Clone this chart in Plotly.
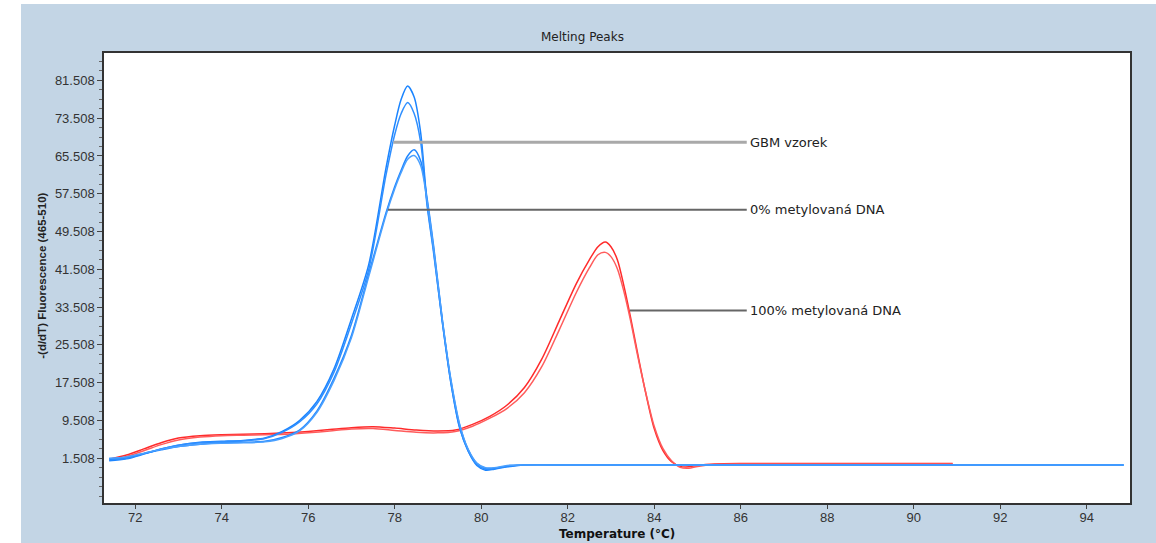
import plotly.graph_objects as go

# Temperature grids (°C)
temp_blue = [71.4, 71.8, 72.2, 72.6, 73.0, 73.5, 74.0, 74.5, 75.0, 75.4, 75.8, 76.2, 76.6,
             77.0, 77.4, 77.8, 78.0, 78.15, 78.3, 78.45, 78.6, 78.75, 78.9, 79.1, 79.3,
             79.5, 79.7, 79.9, 80.1, 80.3, 80.6, 81.0, 82.0, 84.0, 86.0, 88.0, 90.0, 92.0, 94.85]
temp_red = [71.45, 71.8, 72.2, 72.6, 73.0, 73.5, 74.0, 74.5, 75.0, 75.5, 76.0, 76.5, 77.0,
            77.5, 78.0, 78.5, 79.0, 79.4, 79.8, 80.2, 80.6, 81.0, 81.4, 81.8, 82.2, 82.5,
            82.7, 82.87, 83.0, 83.15, 83.3, 83.45, 83.6, 83.8, 84.0, 84.2, 84.4, 84.6, 84.8,
            85.0, 85.4, 86.0, 87.0, 88.0, 89.0, 90.0, 90.9]

# -(d/dT) fluorescence, GBM sample replicates
gbm_a = [1.0, 1.4, 2.4, 3.5, 4.3, 4.9, 5.1, 5.3, 5.8, 7.2, 9.5, 13.5, 20.5,
         31.0, 42.5, 63.0, 72.0, 77.5, 80.3, 78.0, 70.5, 55.5, 45.5, 30.5, 17.5,
         8.0, 3.0, 0.0, -1.0, -0.8, -0.3, 0.1, 0.1, 0.1, 0.1, 0.1, 0.1, 0.1, 0.1]
gbm_b = [1.2, 1.5, 2.5, 3.5, 4.3, 4.8, 5.0, 5.2, 5.7, 7.0, 9.2, 13.0, 19.8,
         30.0, 41.5, 61.5, 70.0, 74.5, 76.8, 74.5, 68.5, 55.0, 45.0, 30.5, 17.5,
         8.2, 3.1, 0.2, -0.8, -0.7, -0.2, 0.1, 0.1, 0.1, 0.1, 0.1, 0.1, 0.1, 0.1]
# 0% methylated DNA replicates
dna0_a = [1.4, 1.7, 2.5, 3.3, 4.0, 4.5, 4.8, 4.9, 5.1, 5.9, 7.5, 11.5, 18.5,
          27.5, 40.5, 53.5, 59.0, 62.5, 65.5, 66.8, 64.5, 56.5, 46.5, 31.0, 18.0,
          8.6, 3.3, 0.4, -0.6, -0.6, -0.1, 0.1, 0.1, 0.1, 0.1, 0.1, 0.1, 0.1, 0.1]
dna0_b = [1.5, 1.8, 2.6, 3.4, 4.0, 4.5, 4.7, 4.8, 5.0, 5.7, 7.3, 11.2, 18.0,
          27.0, 40.0, 53.0, 58.5, 62.0, 64.8, 65.6, 63.5, 56.0, 46.0, 31.0, 18.2,
          8.8, 3.4, 0.5, -0.5, -0.5, 0.0, 0.1, 0.1, 0.1, 0.1, 0.1, 0.1, 0.1, 0.1]
# 100% methylated DNA replicates
dna100_a = [1.4, 2.2, 3.5, 4.8, 5.8, 6.3, 6.5, 6.6, 6.7, 6.9, 7.2, 7.6, 8.0,
            8.2, 7.9, 7.5, 7.3, 7.5, 8.7, 10.4, 12.8, 16.5, 22.5, 30.5, 38.5, 43.5,
            46.3, 47.3, 46.3, 43.5, 38.0, 31.5, 24.5, 15.5, 7.8, 3.2, 0.8, -0.2, -0.3,
            0.0, 0.3, 0.4, 0.4, 0.4, 0.4, 0.4, 0.4]
dna100_b = [1.2, 1.9, 3.1, 4.4, 5.4, 6.0, 6.3, 6.4, 6.5, 6.6, 6.9, 7.3, 7.7,
            7.8, 7.4, 7.0, 6.9, 7.2, 8.3, 10.0, 12.1, 15.4, 20.9, 28.6, 36.6, 41.8,
            44.6, 45.1, 44.2, 41.6, 36.8, 30.8, 24.0, 15.6, 8.3, 3.6, 1.0, -0.4, -0.6,
            -0.2, 0.2, 0.3, 0.3, 0.3, 0.3, 0.3, 0.3]

# Callout labels
label_text = ["GBM vzorek", "0% metylovaná DNA", "100% metylovaná DNA"]
label_level = [68.4, 54.1, 32.8]
label_start = [77.97, 77.84, 83.44]
label_end = 86.14

y_ticks = [1.508 + 8 * i for i in range(11)]
x_ticks = list(range(72, 96, 2))

fig = go.Figure()

red_series = [(dna100_a, "#ff2b2b"), (dna100_b, "#ff5c5c")]
blue_series = [(gbm_a, "#1a84ff"), (gbm_b, "#2f8fff"), (dna0_a, "#1f86ff"), (dna0_b, "#4aa0ff")]

for vals, col in red_series:
    fig.add_trace(go.Scatter(x=temp_red, y=vals, mode="lines",
                             line=dict(color=col, width=1.5, shape="spline", smoothing=0.8),
                             hoverinfo="x+y", showlegend=False))
for vals, col in blue_series:
    fig.add_trace(go.Scatter(x=temp_blue, y=vals, mode="lines",
                             line=dict(color=col, width=1.5, shape="spline", smoothing=0.8),
                             hoverinfo="x+y", showlegend=False))

line_styles = [dict(color="#a9a9a9", width=3), dict(color="#666666", width=2),
               dict(color="#666666", width=2)]
for txt, lvl, x0, ls in zip(label_text, label_level, label_start, line_styles):
    fig.add_shape(type="line", xref="x", yref="y", x0=x0, x1=label_end, y0=lvl, y1=lvl,
                  line=ls)
    fig.add_annotation(x=label_end, y=lvl, xref="x", yref="y", text=txt, showarrow=False,
                       xanchor="left", yanchor="middle", xshift=1,
                       font=dict(family="DejaVu Sans", size=13, color="#222222"))

# White strips around the panel
fig.add_shape(type="rect", xref="paper", yref="paper", x0=-0.11, x1=-0.0809,
              y0=-0.1, y1=1.13, fillcolor="white", line=dict(width=0), layer="below")
fig.add_shape(type="rect", xref="paper", yref="paper", x0=-0.11, x1=1.04,
              y0=1.1089, y1=1.13, fillcolor="white", line=dict(width=0), layer="below")

fig.add_annotation(text="Melting Peaks", xref="paper", yref="paper", x=0.4659, y=1.0356,
                   showarrow=False, xanchor="center", yanchor="middle",
                   font=dict(family="DejaVu Sans", size=12, color="#222222"))
fig.add_annotation(text="<b>Temperature (°C)</b>", xref="paper", yref="paper", x=0.5,
                   y=-0.0695, showarrow=False, xanchor="center", yanchor="middle",
                   font=dict(family="DejaVu Sans", size=12, color="#111111"))
fig.add_annotation(text="<b>-(d/dT) Fluorescence (465-510)</b>", xref="paper", yref="paper",
                   x=-0.0604, y=0.505, textangle=-90, showarrow=False,
                   xanchor="center", yanchor="middle",
                   font=dict(family="Liberation Sans", size=11.5, color="#222222"))

fig.update_layout(
    width=1156, height=543,
    margin=dict(l=104, r=26, t=53, b=40),
    paper_bgcolor="#c3d5e5",
    plot_bgcolor="white",
    showlegend=False,
)
fig.update_xaxes(range=[71.28, 95.0], tickvals=x_ticks, ticks="outside", ticklen=4,
                 ticklabelstandoff=-2,
                 tickcolor="#444", showgrid=False, zeroline=False, showline=True,
                 mirror=True, linecolor="#333333", linewidth=1.5,
                 tickfont=dict(family="Liberation Sans", size=13, color="#333333"))
fig.update_yaxes(range=[-7.95, 87.3], tickvals=y_ticks, tickformat=".3f", ticks="outside",
                 ticklen=5, tickcolor="#444", showgrid=False, zeroline=False, showline=True,
                 mirror=True, linecolor="#333333", linewidth=1.5,
                 minor=dict(tick0=1.508, dtick=2, ticks="outside", ticklen=3,
                            tickcolor="#666", showgrid=False),
                 tickfont=dict(family="Liberation Sans", size=13, color="#333333"))

fig.write_html("out.html")
